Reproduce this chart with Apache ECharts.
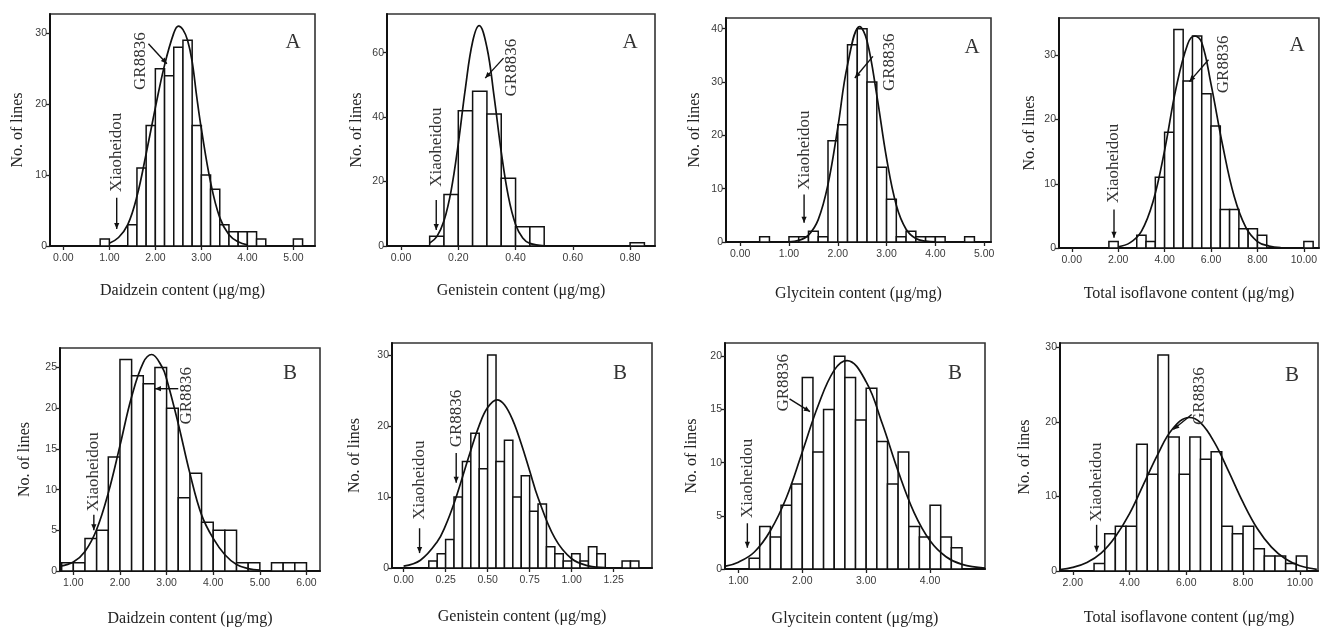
<!DOCTYPE html>
<html>
<head>
<meta charset="utf-8">
<script src="https://cdn.jsdelivr.net/npm/echarts@6/dist/echarts.min.js"></script>
<style>
  html, body { margin: 0; background: #fff; }
  #chart { width: 1320px; height: 630px; }
</style>
</head>
<body>
<div id="chart"></div>
<script>
// panel order: A row (Daidzein, Genistein, Glycitein, Total), then B row
const xTitles = [
  "Daidzein content (μg/mg)", "Genistein content (μg/mg)", "Glycitein content (μg/mg)", "Total isoflavone content (μg/mg)",
  "Daidzein content (μg/mg)", "Genistein content (μg/mg)", "Glycitein content (μg/mg)", "Total isoflavone content (μg/mg)"
];
const panelLetters = ["A", "A", "A", "A", "B", "B", "B", "B"];

const xTicks = [
  [0, 1, 2, 3, 4, 5], [0, 0.2, 0.4, 0.6, 0.8], [0, 1, 2, 3, 4, 5], [0, 2, 4, 6, 8, 10],
  [1, 2, 3, 4, 5, 6], [0, 0.25, 0.5, 0.75, 1, 1.25], [1, 2, 3, 4], [2, 4, 6, 8, 10]
];
const yTicks = [
  [0, 10, 20, 30], [0, 20, 40, 60], [0, 10, 20, 30, 40], [0, 10, 20, 30],
  [0, 5, 10, 15, 20, 25], [0, 10, 20, 30], [0, 5, 10, 15, 20], [0, 10, 20, 30]
];
const xMin = [-0.29, -0.049, -0.29, -0.55, 0.714, -0.069, 0.79, 1.55];
const xMax = [5.47, 0.887, 5.14, 10.65, 6.29, 1.478, 4.86, 10.64];
const yMax = [32.7, 72, 42, 35.8, 27.4, 31.7, 21.25, 30.6];

// histogram bins: left edge of each bin, and its count
const binWidth = [0.2, 0.05, 0.2, 0.4, 0.25, 0.05, 0.1667, 0.375];
const binStarts = [
  [0.8, 1.4, 1.6, 1.8, 2.0, 2.2, 2.4, 2.6, 2.8, 3.0, 3.2, 3.4, 3.6, 3.8, 4.0, 4.2, 5.0],
  [0.10, 0.15, 0.20, 0.25, 0.30, 0.35, 0.40, 0.45, 0.80],
  [0.4, 1.0, 1.2, 1.4, 1.6, 1.8, 2.0, 2.2, 2.4, 2.6, 2.8, 3.0, 3.2, 3.4, 3.6, 3.8, 4.0, 4.6],
  [1.6, 2.8, 3.2, 3.6, 4.0, 4.4, 4.8, 5.2, 5.6, 6.0, 6.4, 6.8, 7.2, 7.6, 8.0, 10.0],
  [0.75, 1.0, 1.25, 1.5, 1.75, 2.0, 2.25, 2.5, 2.75, 3.0, 3.25, 3.5, 3.75, 4.0, 4.25, 4.5, 4.75, 5.25, 5.5, 5.75],
  [0.15, 0.20, 0.25, 0.30, 0.35, 0.40, 0.45, 0.50, 0.55, 0.60, 0.65, 0.70, 0.75, 0.80, 0.85, 0.90, 0.95, 1.00, 1.05, 1.10, 1.15, 1.30, 1.35],
  [1.167, 1.333, 1.5, 1.667, 1.833, 2.0, 2.167, 2.333, 2.5, 2.667, 2.833, 3.0, 3.167, 3.333, 3.5, 3.667, 3.833, 4.0, 4.167, 4.333],
  [2.75, 3.125, 3.5, 3.875, 4.25, 4.625, 5.0, 5.375, 5.75, 6.125, 6.5, 6.875, 7.25, 7.625, 8.0, 8.375, 8.75, 9.125, 9.5, 9.875]
];
const binCounts = [
  [1, 3, 11, 17, 25, 24, 28, 29, 17, 10, 8, 3, 2, 2, 2, 1, 1],
  [3, 16, 42, 48, 41, 21, 6, 6, 1],
  [1, 1, 1, 2, 1, 19, 22, 37, 40, 30, 14, 8, 1, 2, 1, 1, 1, 1],
  [1, 2, 1, 11, 18, 34, 26, 33, 24, 19, 6, 6, 3, 3, 2, 1],
  [1, 1, 4, 5, 14, 26, 24, 23, 25, 20, 9, 12, 6, 5, 5, 1, 1, 1, 1, 1],
  [1, 2, 4, 10, 15, 19, 14, 30, 15, 18, 10, 13, 8, 9, 3, 2, 1, 2, 1, 3, 2, 1, 1],
  [1, 4, 3, 6, 8, 18, 11, 15, 20, 18, 14, 17, 12, 8, 11, 4, 3, 6, 3, 2],
  [1, 5, 6, 6, 17, 13, 29, 18, 13, 18, 15, 16, 6, 5, 6, 3, 2, 2, 1, 2]
];

// fitted normal curves
const curveX = [
  [1.0, 1.2, 1.4, 1.6, 1.8, 2.0, 2.2, 2.4, 2.5, 2.6, 2.7, 2.8, 2.9, 3.0, 3.2, 3.4, 3.6, 3.8, 4.0],
  [0.10, 0.125, 0.15, 0.175, 0.20, 0.225, 0.25, 0.273, 0.30, 0.325, 0.35, 0.375, 0.40, 0.425, 0.45, 0.50],
  [1.0, 1.2, 1.4, 1.6, 1.8, 2.0, 2.2, 2.45, 2.6, 2.8, 3.0, 3.2, 3.4, 3.6, 3.8, 4.0],
  [2.0, 2.5, 3.0, 3.5, 4.0, 4.5, 5.0, 5.3, 5.6, 6.0, 6.5, 7.0, 7.5, 8.0, 8.5, 9.0],
  [0.72, 1.0, 1.25, 1.5, 1.75, 2.0, 2.25, 2.5, 2.68, 2.9, 3.0, 3.25, 3.5, 3.75, 4.0, 4.25, 4.5, 4.75, 5.0],
  [0.0, 0.1, 0.2, 0.25, 0.3, 0.35, 0.4, 0.45, 0.5, 0.556, 0.6, 0.65, 0.7, 0.75, 0.8, 0.9, 1.0, 1.1, 1.2],
  [0.8, 1.0, 1.25, 1.5, 1.75, 2.0, 2.25, 2.5, 2.7, 3.0, 3.25, 3.5, 3.75, 4.0, 4.25, 4.5, 4.86],
  [1.55, 2.0, 2.5, 3.0, 3.5, 4.0, 4.5, 5.0, 5.5, 6.1, 6.5, 7.0, 7.5, 8.0, 8.5, 9.0, 9.5, 10.0, 10.6]
];
const curveY = [
  [0.4, 1.2, 3.0, 7.0, 13, 19.5, 25.5, 30, 31, 30.5, 29, 26, 21, 16.5, 9, 4, 1.6, 0.6, 0.15],
  [0.9, 2.9, 7.8, 17.2, 31.8, 49.1, 63.4, 68.4, 61.6, 46.4, 29.2, 15.3, 6.7, 2.5, 0.8, 0.05],
  [0.05, 0.3, 1.3, 4.2, 10.8, 21.4, 33.2, 40.4, 37.7, 27.5, 15.7, 6.9, 2.4, 0.65, 0.15, 0.03],
  [0.2, 0.8, 2.6, 7.2, 15.2, 25, 31.8, 33, 32, 25.5, 16, 8, 3.2, 1.0, 0.3, 0.05],
  [0.6, 1.1, 2.4, 5.1, 9.6, 15.4, 21.4, 25.6, 26.6, 25.1, 23.6, 18.1, 12, 6.9, 4.0, 2.0, 0.8, 0.3, 0.1],
  [0.26, 1.1, 3.7, 6.0, 9.1, 12.8, 16.6, 20.1, 22.6, 23.7, 23.0, 20.8, 17.5, 13.7, 9.9, 4.2, 1.3, 0.3, 0.05],
  [0.27, 0.64, 1.6, 3.6, 6.7, 11.0, 15.4, 18.7, 19.6, 17.6, 13.7, 9.2, 5.3, 2.65, 1.15, 0.43, 0.08],
  [0.2, 0.49, 1.15, 2.4, 4.6, 7.7, 11.7, 15.7, 19.0, 20.6, 19.9, 17.2, 13.3, 9.2, 5.7, 3.2, 1.6, 0.7, 0.23]
];

// layout of the eight boxes (px)
const boxes = [
  { left: 50, top: 14, width: 265, height: 232, xGap: 37, yGap: 24, letter: [293, 42] },
  { left: 387, top: 14, width: 268, height: 232, xGap: 37, yGap: 22, letter: [630, 42] },
  { left: 726, top: 18, width: 265, height: 224, xGap: 44, yGap: 23, letter: [972, 47] },
  { left: 1059, top: 18, width: 260, height: 230, xGap: 38, yGap: 21, letter: [1297, 45] },
  { left: 60, top: 348, width: 260, height: 223, xGap: 40, yGap: 27, letter: [290, 373] },
  { left: 392, top: 343, width: 260, height: 225, xGap: 41, yGap: 29, letter: [620, 373] },
  { left: 725, top: 343, width: 260, height: 226, xGap: 42, yGap: 25, letter: [955, 373] },
  { left: 1060, top: 343, width: 258, height: 228, xGap: 39, yGap: 27, letter: [1292, 375] }
];

// arrow notes, in data coordinates of each panel: text start (bottom), arrow from -> to
const notes = [
  { p: 0, text: "Xiaoheidou", t: [1.16, 7.6], a: [1.16, 6.8], b: [1.16, 2.4] },
  { p: 0, text: "GR8836", t: [1.67, 22], a: [1.85, 28.5], b: [2.25, 25.7] },
  { p: 1, text: "Xiaoheidou", t: [0.123, 18.4], a: [0.123, 14.3], b: [0.123, 5] },
  { p: 1, text: "GR8836", t: [0.387, 46.4], a: [0.358, 58.3], b: [0.294, 52.1] },
  { p: 2, text: "Xiaoheidou", t: [1.31, 9.8], a: [1.31, 8.9], b: [1.31, 3.6] },
  { p: 2, text: "GR8836", t: [3.06, 28.3], a: [2.72, 34.8], b: [2.35, 30.75] },
  { p: 3, text: "Xiaoheidou", t: [1.82, 7.0], a: [1.82, 6.0], b: [1.82, 1.6] },
  { p: 3, text: "GR8836", t: [6.53, 24.1], a: [5.89, 29.3], b: [5.07, 25.9] },
  { p: 4, text: "Xiaoheidou", t: [1.44, 7.3], a: [1.44, 6.9], b: [1.44, 5.0] },
  { p: 4, text: "GR8836", t: [3.43, 18], a: [3.25, 22.4], b: [2.75, 22.4] },
  { p: 5, text: "Xiaoheidou", t: [0.095, 6.8], a: [0.095, 5.6], b: [0.095, 2.1] },
  { p: 5, text: "GR8836", t: [0.313, 17], a: [0.313, 16.2], b: [0.313, 12] },
  { p: 6, text: "Xiaoheidou", t: [1.14, 4.8], a: [1.14, 4.3], b: [1.14, 2.0] },
  { p: 6, text: "GR8836", t: [1.70, 14.8], a: [1.80, 16.0], b: [2.12, 14.8] },
  { p: 7, text: "Xiaoheidou", t: [2.84, 6.6], a: [2.84, 6.2], b: [2.84, 2.6] },
  { p: 7, text: "GR8836", t: [6.48, 19.6], a: [6.19, 21], b: [5.54, 19] }
];

const SERIF = '"Liberation Serif", "DejaVu Serif", serif';
const SANS = '"Liberation Sans", Arial, sans-serif';

const chart = echarts.init(document.getElementById("chart"));

const grid = [], xAxis = [], yAxis = [], series = [];
boxes.forEach((b, i) => {
  grid.push({
    left: b.left, top: b.top, width: b.width, height: b.height,
    show: true, borderColor: "#333", borderWidth: 1.6
  });
  xAxis.push({
    type: "value", gridIndex: i, min: xMin[i], max: xMax[i],
    name: xTitles[i], nameLocation: "middle", nameGap: b.xGap,
    nameTextStyle: { fontFamily: SERIF, fontSize: 16, color: "#222" },
    axisLine: { show: true, onZero: false, lineStyle: { color: "#111", width: 2 } },
    axisTick: { show: true, length: 4, customValues: xTicks[i], lineStyle: { color: "#222", width: 1.3 } },
    axisLabel: {
      customValues: xTicks[i], formatter: v => Number(v).toFixed(2),
      fontFamily: SANS, fontSize: 10.5, color: "#3a3a3a", margin: 7
    },
    splitLine: { show: false }
  });
  yAxis.push({
    type: "value", gridIndex: i, min: 0, max: yMax[i],
    name: "No. of lines", nameLocation: "middle", nameGap: b.yGap,
    nameTextStyle: { fontFamily: SERIF, fontSize: 16, color: "#222" },
    axisLine: { show: true, onZero: false, lineStyle: { color: "#111", width: 2 } },
    axisTick: { show: true, length: 4, customValues: yTicks[i], lineStyle: { color: "#222", width: 1.3 } },
    axisLabel: { customValues: yTicks[i], fontFamily: SANS, fontSize: 10.5, color: "#3a3a3a", margin: 3 },
    splitLine: { show: false }
  });
  const w = binWidth[i];
  series.push({
    type: "custom", xAxisIndex: i, yAxisIndex: i, silent: true, clip: true,
    data: binStarts[i].map((s, k) => [s, binCounts[i][k]]),
    encode: { x: 0, y: 1 },
    renderItem: (params, api) => {
      const x0 = api.value(0), c = api.value(1);
      const p0 = api.coord([x0, 0]);
      const p1 = api.coord([x0 + w, c]);
      return {
        type: "rect",
        shape: { x: p0[0], y: p1[1], width: p1[0] - p0[0], height: p0[1] - p1[1] },
        style: { fill: "#fff", stroke: "#111", lineWidth: 1.5 }
      };
    }
  });
  series.push({
    type: "line", xAxisIndex: i, yAxisIndex: i, silent: true, z: 3,
    data: curveX[i].map((x, k) => [x, curveY[i][k]]),
    smooth: 0.4, symbol: "none", showSymbol: false,
    lineStyle: { color: "#111", width: 1.7 }
  });
});

chart.setOption({ animation: false, backgroundColor: "#fff", grid, xAxis, yAxis, series });

// annotations placed through the axes
const graphic = [];
notes.forEach(n => {
  const t = chart.convertToPixel({ gridIndex: n.p }, n.t);
  const a = chart.convertToPixel({ gridIndex: n.p }, n.a);
  const b = chart.convertToPixel({ gridIndex: n.p }, n.b);
  graphic.push({
    type: "text", x: t[0], y: t[1], rotation: Math.PI / 2, z: 10,
    style: { text: n.text, font: "17px " + SERIF, fill: "#333", align: "left", verticalAlign: "middle" }
  });
  graphic.push({
    type: "line", z: 10,
    shape: { x1: a[0], y1: a[1], x2: b[0], y2: b[1] },
    style: { stroke: "#111", lineWidth: 1.4 }
  });
  const dx = b[0] - a[0], dy = b[1] - a[1];
  const len = Math.hypot(dx, dy) || 1;
  const ux = dx / len, uy = dy / len;
  const bx = b[0] - ux * 6, by = b[1] - uy * 6;
  graphic.push({
    type: "polygon", z: 10,
    shape: { points: [[b[0], b[1]], [bx - uy * 2.6, by + ux * 2.6], [bx + uy * 2.6, by - ux * 2.6]] },
    style: { fill: "#111" }
  });
});
boxes.forEach((b, i) => {
  graphic.push({
    type: "text", x: b.letter[0], y: b.letter[1], z: 10,
    style: { text: panelLetters[i], font: "21px " + SERIF, fill: "#333", align: "center", verticalAlign: "middle" }
  });
});
chart.setOption({ graphic });
</script>
</body>
</html>
